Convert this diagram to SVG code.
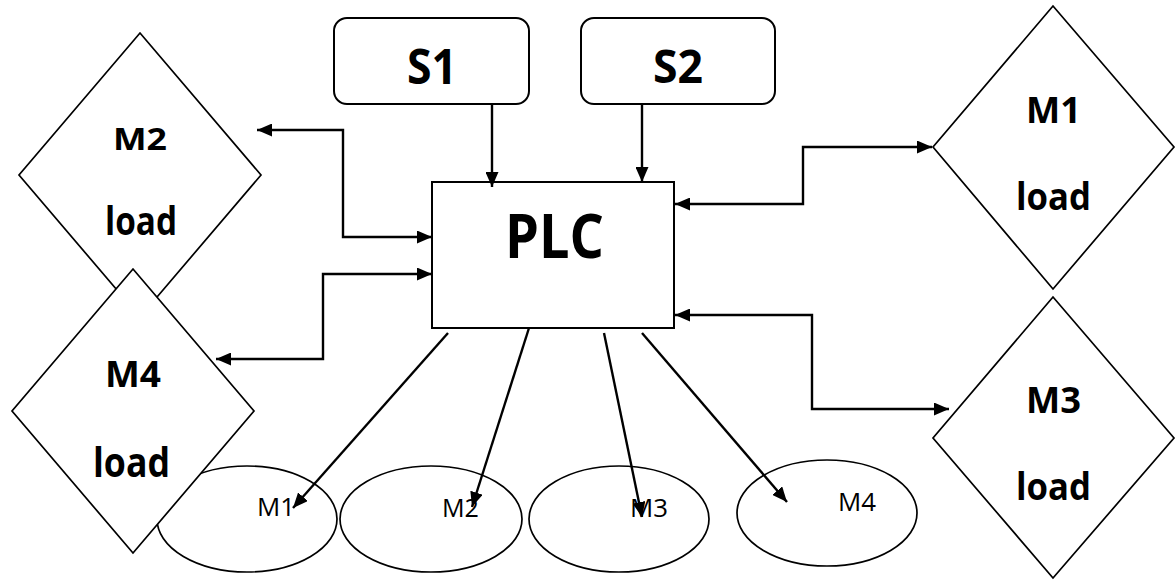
<svg xmlns="http://www.w3.org/2000/svg" width="1176" height="581" viewBox="0 0 1176 581">
<style>
.shape{fill:#fff;stroke:#000;stroke-width:1.7}
.box{fill:#fff;stroke:#000;stroke-width:2}
.conn{fill:none;stroke:#000;stroke-width:2.4}
.b{font-family:"Open Sans","DejaVu Sans",sans-serif;font-weight:bold;fill:#000}
.r{font-family:"Open Sans","DejaVu Sans",sans-serif;font-size:26px;fill:#000}
</style>
<defs>
<marker id="ah" viewBox="0 0 15 13" refX="15" refY="6.5" markerWidth="15" markerHeight="13" markerUnits="userSpaceOnUse" orient="auto-start-reverse">
<path d="M0,0 L15,6.5 L0,13 Z" fill="#000"/>
</marker>
</defs>
<rect width="1176" height="581" fill="#fff"/>
<g id="m2load">
<polygon class="shape" points="140,33 261,175 140,317 19,175"/>
<text class="b" x="113" y="150" font-size="31" textLength="54" lengthAdjust="spacingAndGlyphs">M2</text>
<text class="b" x="105" y="235" font-size="40" textLength="72" lengthAdjust="spacingAndGlyphs">load</text>
</g>
<g id="e1">
<ellipse class="shape" cx="247" cy="519" rx="90" ry="53"/>
<text class="r" x="257" y="516" textLength="38" lengthAdjust="spacingAndGlyphs">M1</text>
</g>
<g id="m4load">
<polygon class="shape" points="133,269 254,411 133,553 12,411"/>
<text class="b" x="105" y="387" font-size="35" textLength="56" lengthAdjust="spacingAndGlyphs">M4</text>
<text class="b" x="93" y="477" font-size="42" textLength="77" lengthAdjust="spacingAndGlyphs">load</text>
</g>
<g id="e2">
<ellipse class="shape" cx="431" cy="519" rx="91" ry="53"/>
<text class="r" x="442" y="517" textLength="37" lengthAdjust="spacingAndGlyphs">M2</text>
</g>
<g id="e3">
<ellipse class="shape" cx="619" cy="519" rx="90" ry="53"/>
<text class="r" x="630" y="517" textLength="38" lengthAdjust="spacingAndGlyphs">M3</text>
</g>
<g id="e4">
<ellipse class="shape" cx="827" cy="513" rx="90" ry="53"/>
<text class="r" x="838" y="511" textLength="38" lengthAdjust="spacingAndGlyphs">M4</text>
</g>
<g id="s1">
<rect class="box" x="334" y="18" width="195" height="86" rx="13"/>
<text class="b" x="407" y="84" font-size="48" textLength="50" lengthAdjust="spacingAndGlyphs">S1</text>
</g>
<g id="s2">
<rect class="box" x="581" y="18" width="194" height="86" rx="13"/>
<text class="b" x="653" y="83" font-size="47" textLength="50" lengthAdjust="spacingAndGlyphs">S2</text>
</g>
<g id="plc">
<rect class="box" x="432" y="182" width="242" height="146"/>
<text class="b" x="505" y="258" font-size="60" textLength="99" lengthAdjust="spacingAndGlyphs">PLC</text>
</g>
<g id="m1load">
<polygon class="shape" points="1053,6 1174,147 1053,289 933,147"/>
<text class="b" x="1026" y="123" font-size="36" textLength="55" lengthAdjust="spacingAndGlyphs">M1</text>
<text class="b" x="1016" y="210" font-size="37" textLength="75" lengthAdjust="spacingAndGlyphs">load</text>
</g>
<g id="m3load">
<polygon class="shape" points="1053,297 1174,438 1053,578 933,438"/>
<text class="b" x="1026" y="413" font-size="36" textLength="55" lengthAdjust="spacingAndGlyphs">M3</text>
<text class="b" x="1016" y="500" font-size="37" textLength="75" lengthAdjust="spacingAndGlyphs">load</text>
</g>
<g id="connectors">
<path class="conn" d="M492,104 L492,187" marker-end="url(#ah)"/>
<path class="conn" d="M642,104 L642,182" marker-end="url(#ah)"/>
<path class="conn" d="M257,130 L343,130 L343,237 L432,237" marker-start="url(#ah)" marker-end="url(#ah)"/>
<path class="conn" d="M216,359 L323,359 L323,274 L432,274" marker-start="url(#ah)" marker-end="url(#ah)"/>
<path class="conn" d="M675,204 L803,204 L803,147 L932,147" marker-start="url(#ah)" marker-end="url(#ah)"/>
<path class="conn" d="M675,315 L812,315 L812,409 L949,409" marker-start="url(#ah)" marker-end="url(#ah)"/>
<path class="conn" d="M448,333 L293,508" marker-end="url(#ah)"/>
<path class="conn" d="M529,328 L472,507" marker-end="url(#ah)"/>
<path class="conn" d="M604,333 L642,517" marker-end="url(#ah)"/>
<path class="conn" d="M642,333 L787,502" marker-end="url(#ah)"/>
</g>
</svg>
